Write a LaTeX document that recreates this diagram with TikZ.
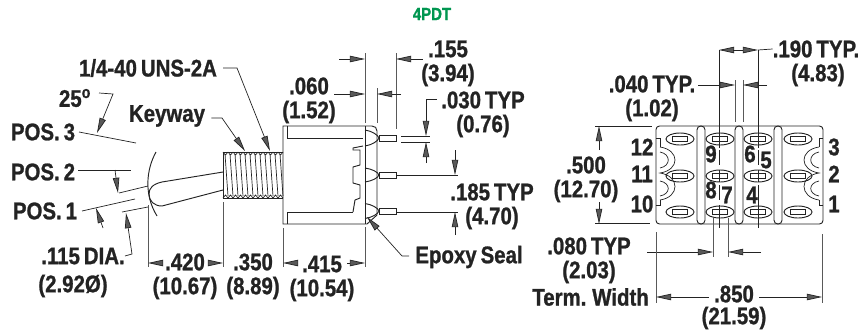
\documentclass[tikz,border=0pt]{standalone}
\usepackage{fontspec}
\setmainfont{Liberation Sans}[BoldFont={Liberation Sans Bold}, FakeStretch=0.85, BoldFeatures={FakeBold=1}, WordSpace=0.7]
\usetikzlibrary{arrows.meta,positioning,calc}
\definecolor{titlegreen}{RGB}{0,150,80}
\definecolor{inkgrey}{RGB}{35,35,35}
\tikzset{dimtip/.tip={Triangle[length=13pt,width=5.5pt,fill=black!65,color=inkgrey]}}
\begin{document}
\begin{tikzpicture}[x=.03cm, y=-.03cm,
            every node/.style={inner sep=0pt, font=\bfseries\fontsize{20.5}{22}\selectfont, text=inkgrey},
            thin line/.style={draw=inkgrey, line width=.6pt},
            part line/.style={draw=inkgrey, line width=.8pt},
            ext line/.style={draw=black!65, line width=.6pt},
            dim line/.style={thin line, -{dimtip}}]
        \useasboundingbox (0,0) rectangle (865,332);
        \node[font=\bfseries\fontsize{15}{17}\selectfont, text=titlegreen] (title) at (432,14) {4PDT};

        % left view labels
        \node (thread) at (148,68) {1/4-40 UNS-2A};
        \node (angle) at (75,98) {25\textsuperscript{o}};
        \node (pos3) at (43,132) {POS. 3};
        \node (pos2) at (43,172) {POS. 2};
        \node (pos1) at (45,211) {POS. 1};
        \node (keyway) at (167,116) {Keyway};
        \node (dia) at (83,256) {.115 DIA.};
        \node (diamm) at (73,286) {(2.92Ø)};
        \node (d420) at (185,262) {.420};
        \node (d420mm) at (185,288) {(10.67)};
        \node (d350) at (253,262) {.350};
        \node (d350mm) at (253,288) {(8.89)};
        \node (d060) at (309,86) {.060};
        \node (d060mm) at (309,112) {(1.52)};
        \node (d415) at (322,264) {.415};
        \node (d415mm) at (322,290) {(10.54)};
        \node (d155) at (448,49) {.155};
        \node (d155mm) at (448,75) {(3.94)};
        \node (d030) at (483,100) {.030 TYP};
        \node (d030mm) at (483,126) {(0.76)};
        \node (d185) at (492,192) {.185 TYP};
        \node (d185mm) at (492,218) {(4.70)};
        \node (epoxy) at (469,257) {Epoxy Seal};

        % position lines and toggle
        \draw[thin line] (79,132) -- (136,143);
        \draw[thin line] (78,170) -- (131,170);
        \draw[thin line] (119,193) -- (148,186);
        \draw[thin line] (82,211) -- (135,199);
        \draw[thin line] (122,212) -- (148,207);
        \draw[part line] (156,152) .. controls (146,170) and (144,195) .. (157,216);
        \draw[part line] (223,172) -- (162,182) .. controls (153,184) and (149,188) .. (149,194)
              .. controls (149,201) and (154,206) .. (162,206) -- (223,190);
        \draw[dim line] (99,93) -- (113,94) -- (97,133);
        \draw[dim line] (115,170) -- (118,193);
        \draw[dim line] (103,228) -- (96,208);
        \draw[dim line] (dia.east) -- (132,254) -- (126,213);
        \draw[dim line] (thread.east) ++(6,0) -- (237,68) -- (270,151);
        \draw[dim line] (keyway.east) ++(6,2) -- (222,118) -- (245,151);

        % threaded bushing
        \draw[part line] (223,152) -- (283,152) (223,198) -- (283,198) (223,152) -- (223,198);
        \foreach \tx in {0,...,11} {
            \draw[thin line] ({225+\tx*5},154) -- ({228+\tx*5},196);
            \draw[thin line] ({223+\tx*5},152) -- ({225.5+\tx*5},155) -- ({228+\tx*5},152);
            \draw[thin line] ({223+\tx*5},198) -- ({225.5+\tx*5},195) -- ({228+\tx*5},198);
        }

        % switch body
        \draw[part line] (283,126) -- (372,126) .. controls (375,126) and (377,128) .. (377,131)
              -- (377,215) -- (367,224) -- (283,224) -- cycle;
        \draw[part line] (365,126) -- (365,224);
        \draw[part line] (287,126) -- (287,138) -- (363,138);
        \draw[part line] (287,224) -- (287,212) -- (353,212);
        \draw[part line] (363,146) -- (353,148) -- (353,150) -- (360,150) -- (360,165) -- (353,167)
              -- (353,183) -- (360,185) -- (360,198) -- (355,200) -- (353,212);
        \foreach \py/\ph in {138/8, 175/7, 211/7.5} {
            \draw[part line] (365,{\py-\ph}) .. controls (372,{\py-\ph+1}) and (378,{\py-3}) .. (379,\py)
                  .. controls (378,{\py+3}) and (372,{\py+\ph-1}) .. (365,{\py+\ph});
            \draw[part line] (379,{\py-3}) rectangle (396,{\py+3});
        }

        % side dimensions
        \draw[ext line] (148,205) -- (148,267) (223,202) -- (223,267) (283,228) -- (283,267) (365,227) -- (365,267);
        \draw[dim line] (d420.west) ++(-3,1) -- (148,263);
        \draw[dim line] (d420.east) ++(3,1) -- (223,263);
        \draw[dim line] (d415.west) ++(-5,-1) -- (283,263);
        \draw[dim line] (d415.east) ++(5,-1) -- (365,263);
        \draw[ext line] (365,53) -- (365,123) (396,53) -- (396,129) (377,88) -- (377,123);
        \draw[dim line] (339,59) -- (365,59);
        \draw[dim line] (d155.west) ++(-5,10) -- (396,59);
        \draw[dim line] (d060.east) ++(5,8) -- (365,94);
        \draw[dim line] (401,94) -- (377,94);
        \draw[dim line] (d030.west) ++(-4,-1) -- (426,99) -- (426,136);
        \draw[dim line] (426,163) -- (426,142);
        \draw[thin line] (401,136) -- (430,136) (401,142) -- (430,142);
        \draw[thin line] (396,175) -- (458,175) (396,212) -- (458,212);
        \draw[dim line] (455,150) -- (455,175);
        \draw[dim line] (455,235) -- (455,212);
        \draw[dim line] (epoxy.west) ++(-6,-1) -- (402,256) -- (367,217);

        % right view labels
        \node (d190) at (816,49) {.190 TYP.};
        \node (d190mm) at (818,75) {(4.83)};
        \node (d040) at (652,84) {.040 TYP.};
        \node (d040mm) at (652,110) {(1.02)};
        \node (d500) at (586,165) {.500};
        \node (d500mm) at (586,191) {(12.70)};
        \node (d080) at (589,246) {.080 TYP};
        \node (d080mm) at (589,272) {(2.03)};
        \node[anchor=east] (termw) at (649,297) {Term. Width};
        \node (d850) at (734,294) {.850};
        \node (d850mm) at (734,318) {(21.59)};
        \foreach \nm/\nx/\ny in {12/642/147, 11/642/174, 10/642/204, 9/711/154, 8/711/190, 7/727/195,
                6/750/154, 5/766/160, 4/752/195, 3/834/147, 2/834/174, 1/834/204} {
            \node (term\nm) at (\nx,\ny) {\nm};
        }

        % terminal face
        \draw[part line, rounded corners=3pt] (656,126) rectangle (823,224);
        \foreach \sx in {697,735,774} {
            \draw[part line, rounded corners=3.2pt] (\sx,126) rectangle ({\sx+8},224);
        }
        \foreach \tx in {680,720,758,798} {
            \foreach \ty in {139,176,212} {
                \draw[part line] (\tx,\ty) ellipse [x radius=14, y radius=6];
                \draw[thin line] ({\tx-7.5},{\ty-2.5}) rectangle ({\tx+7.5},{\ty+2.5});
            }
        }
        \foreach \mx/\sgn in {656/1, 823/-1} {
            \draw[thin line] (\mx,138) -- ({\mx+\sgn*4},138) -- ({\mx+\sgn*4},147)
                  (\mx,205) -- ({\mx+\sgn*4},205) -- ({\mx+\sgn*4},200);
            \draw[thin line] ({\mx+\sgn*4},147) .. controls ({\mx+\sgn*24},150) and ({\mx+\sgn*24},170) .. ({\mx+\sgn*4},173)
                  .. controls ({\mx+\sgn*24},176) and ({\mx+\sgn*24},197) .. ({\mx+\sgn*4},200);
            \draw[thin line] ({\mx+\sgn*4},152) .. controls ({\mx+\sgn*15},154) and ({\mx+\sgn*15},166) .. ({\mx+\sgn*4},168);
            \draw[thin line] ({\mx+\sgn*4},181) .. controls ({\mx+\sgn*15},183) and ({\mx+\sgn*15},194) .. ({\mx+\sgn*4},196);
        }

        % face dimensions
        \draw[thin line] (719,50) -- (719,148) (719,150) -- (719,165) (719,170) -- (719,182) (719,185) -- (719,200) (719,205) -- (719,228);
        \draw[thin line] (758,50) -- (758,148) (758,150) -- (758,165) (758,170) -- (758,182) (758,185) -- (758,228);
        \draw[dim line] (733,50) -- (719,50);
        \draw[dim line] (733,50) -- (758,50);
        \draw[thin line] (758,50) -- (d190.west);
        \draw[ext line] (735,80) -- (735,122) (743,80) -- (743,122);
        \draw[dim line] (d040.east) ++(3,1) -- (735,85);
        \draw[dim line] (767,85) -- (743,85);
        \draw[thin line] (595,126) -- (652,126) (595,223) -- (650,223);
        \draw[dim line] (599,150) -- (599,126);
        \draw[dim line] (599,202) -- (599,224);
        \draw[ext line] (713,218) -- (713,257) (728,218) -- (728,257);
        \draw[dim line] (647,252) -- (713,252);
        \draw[dim line] (761,252) -- (728,252);
        \draw[ext line] (656,232) -- (656,303) (822,234) -- (822,303);
        \draw[dim line] (d850.west) ++(-5,3) -- (656,297);
        \draw[dim line] (d850.east) ++(5,3) -- (822,297);
\end{tikzpicture}
\end{document}
